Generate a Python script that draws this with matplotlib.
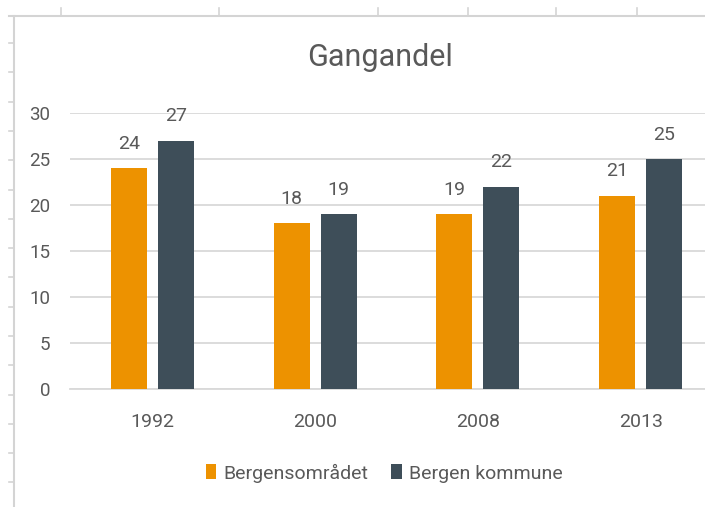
import numpy as np
import matplotlib.pyplot as plt
from matplotlib.lines import Line2D

plt.rcParams['font.family'] = ['Roboto', 'DejaVu Sans']

aar = ['1992', '2000', '2008', '2013']
bergensomradet = [24, 18, 19, 21]
bergen_kommune = [27, 19, 22, 25]
serier = ['Bergensområdet', 'Bergen kommune']
farger = ['#ED9200', '#3E4E59']
yticks = [0, 5, 10, 15, 20, 25, 30]

tekst = '#595959'
grid = '#D9D9D9'

fig = plt.figure(figsize=(7.05, 5.07), dpi=100)
ax = fig.add_axes([70/705, 1-389/507, 635/705, 276/507])

x = np.arange(len(aar))
b = 0.221
off = 0.1445
s1 = ax.bar(x - off, bergensomradet, b, color=farger[0], label=serier[0], zorder=3)
s2 = ax.bar(x + off, bergen_kommune, b, color=farger[1], label=serier[1], zorder=3)

for s in (s1, s2):
    for r in s:
        ax.annotate(f'{r.get_height():.0f}', (r.get_x() + r.get_width()/2, r.get_height()),
                    xytext=(0, 14), textcoords='offset points', ha='center', va='baseline',
                    fontsize=14, color=tekst, annotation_clip=False)

ax.set_xlim(-0.507, 3.396)
ax.set_ylim(0, 30)
ax.set_yticks(yticks)
ax.set_xticks(x)
ax.set_xticklabels(aar)
ax.tick_params(axis='y', length=0, pad=14, labelsize=13.5, labelcolor=tekst)
ax.tick_params(axis='x', length=0, pad=17, labelsize=14, labelcolor=tekst)
ax.yaxis.grid(True, color=grid, lw=1.3, zorder=0)
ax.set_axisbelow(True)
for sp in ['top', 'right', 'left']:
    ax.spines[sp].set_visible(False)
ax.spines['bottom'].set_color(grid)
ax.spines['bottom'].set_linewidth(1.3)

fig.text(380/705, 1-57/507, 'Gangandel', ha='center', va='center', fontsize=22, color=tekst)

fig.legend(handles=[s1, s2], labels=serier, loc='center', bbox_to_anchor=(384/705, 1-473/507),
           ncol=2, frameon=False, fontsize=14, labelcolor=tekst, handlelength=0.55,
           handleheight=0.8, handletextpad=0.35, columnspacing=1.2)

# rammelinjer fra regnearket
rk = '#D4D4D4'
W, H = 705, 507
fig.add_artist(Line2D([9/W, 1], [1-16/H, 1-16/H], color=rk, lw=1.5, transform=fig.transFigure))
fig.add_artist(Line2D([14/W, 14/W], [0, 1-16/H], color=rk, lw=1.5, transform=fig.transFigure))
for px in [61, 219, 378, 468, 556, 637]:
    fig.add_artist(Line2D([px/W, px/W], [1-8/H, 1-16/H], color=rk, lw=1.2, transform=fig.transFigure))
for py in np.arange(43, 500, 29.3):
    fig.add_artist(Line2D([9/W, 14/W], [1-py/H, 1-py/H], color=rk, lw=1.2, transform=fig.transFigure))

fig.savefig('out.png', dpi=100)
